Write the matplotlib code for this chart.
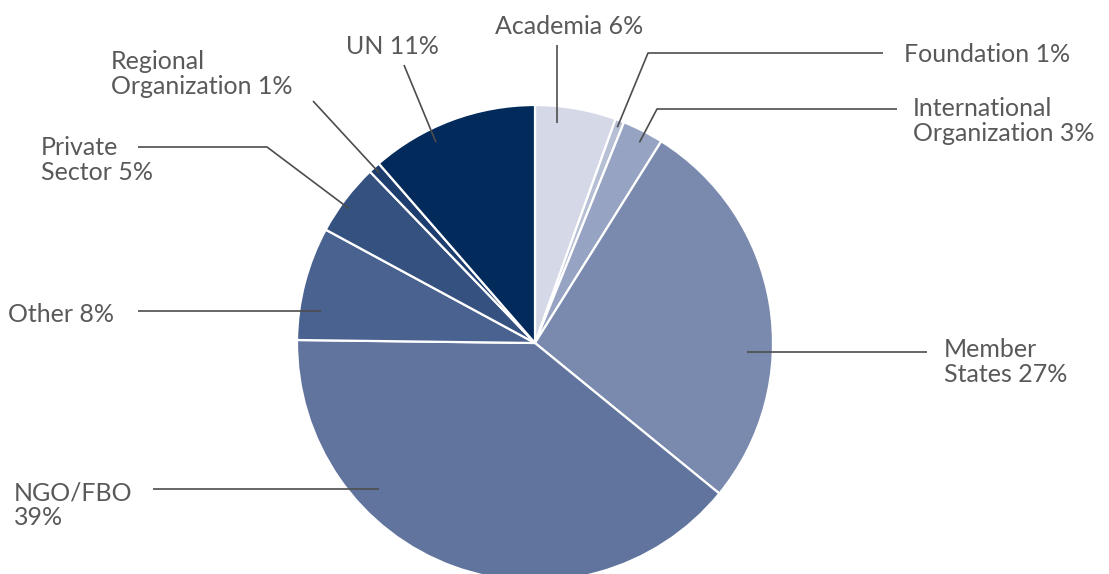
import numpy as np
import matplotlib
matplotlib.use("Agg")
import matplotlib.pyplot as plt

# shares of each source (percent), clockwise from the top
labels = ["Academia 6%", "Foundation 1%", "International\nOrganization 3%",
          "Member\nStates 27%", "NGO/FBO\n39%", "Other 8%",
          "Private\nSector 5%", "Regional\nOrganization 1%", "UN 11%"]
shares = [5.5, 0.6, 2.8, 27.0, 39.3, 7.7, 4.9, 0.8, 11.4]
colors = ["#d5d9e7", "#b7bfd5", "#96a3c2", "#7a8aae", "#61749d",
          "#4a6290", "#34517f", "#1e3d6f", "#022a5b"]

# layout (figure pixels): label position + alignment, leader anchor inside wedge
# (fraction across wedge, fraction of radius), and extra leader points
# (None -> reuse the anchor coordinate so the segment stays straight)
text_pos = [(569, 27, "center"), (904, 54, "left"), (913, 121, "left"),
            (944, 362, "left"), (14, 505, "left"), (114, 314, "right"),
            (41, 160, "left"), (111, 74, "left"), (392, 46, "center")]
anchor = [(0.29, 0.93), (0.5, 0.97), (0.55, 0.95), (0.62, 0.89), (0.69, 0.90),
          (0.28, 0.91), (0.42, 0.965), (0.5, 0.97), (0.36, 0.94)]
leader = [[(None, 45)], [(648, 53), (883, 53)], [(657, 109), (897, 109)],
          [(927, None)], [(153, None)], [(138, None)],
          [(267, 147), (138, 147)], [(313, 101)], [(404, 65)]]

W, H = 1109, 574
cx, cy, R = 535, 343, 238

fig = plt.figure(figsize=(W / 100, H / 100), dpi=100)
ax = fig.add_axes([0, 0, 1, 1])

# y axis runs downwards, so counterclock in data = clockwise on screen
wedges, _ = ax.pie(shares, colors=colors, startangle=-90, counterclock=True,
                   center=(cx, cy), radius=R,
                   wedgeprops=dict(edgecolor="white", linewidth=1.6))
ax.set_xlim(0, W)
ax.set_ylim(H, 0)
ax.set_aspect("equal")
ax.axis("off")

line_color = "#4d4d4d"
text_color = "#595959"

for w, lab, (tx, ty, ha), (t, rf), pts in zip(wedges, labels, text_pos, anchor, leader):
    th = np.deg2rad(w.theta1 + t * (w.theta2 - w.theta1))
    ax0 = cx + rf * R * np.cos(th)
    ay0 = cy + rf * R * np.sin(th)
    xs = [ax0] + [ax0 if p[0] is None else p[0] for p in pts]
    ys = [ay0] + [ay0 if p[1] is None else p[1] for p in pts]
    ax.plot(xs, ys, color=line_color, lw=1.2, solid_capstyle="butt")
    ax.text(tx, ty, lab, ha=ha, va="center", fontsize=18, color=text_color,
            family="Lato", fontweight="normal", linespacing=1.08)

fig.savefig("out.png", dpi=100)
